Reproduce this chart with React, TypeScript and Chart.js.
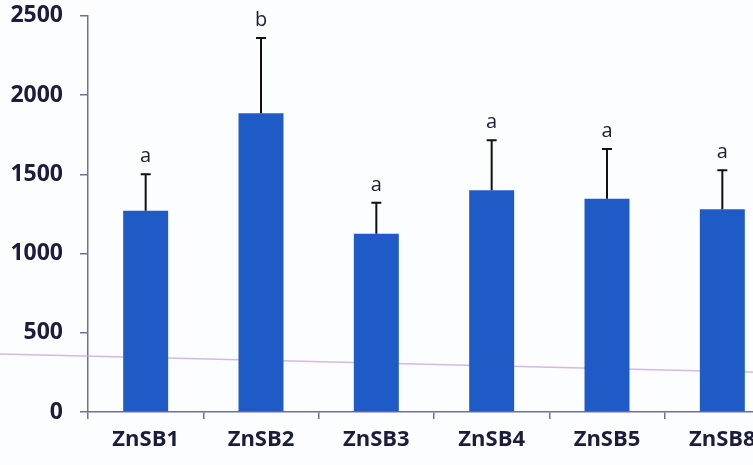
import React, { useEffect, useRef } from "react";
import { Chart, registerables } from "chart.js";

Chart.register(...registerables);

const strains = ["ZnSB1", "ZnSB2", "ZnSB3", "ZnSB4", "ZnSB5", "ZnSB8"];
const means = [1270, 1885, 1125, 1400, 1345, 1280];
const errors = [230, 475, 195, 315, 315, 245];
const groups = ["a", "b", "a", "a", "a", "a"];
const yTicks = [0, 500, 1000, 1500, 2000, 2500];

const BAR = "#1f5bc6";
const AXIS = "#6e6ea0";
const INK = "#1c1d3c";
const SHIFT = 15; // canvas is raised by this many pixels inside its frame

// Whiskers above each bar plus the significance letter over the cap
const errorBars = {
  id: "errorBars",
  afterDatasetsDraw(chart: any) {
    const { ctx, scales } = chart;
    const x = scales.x;
    const y = scales.y;
    ctx.save();
    ctx.strokeStyle = "#111111";
    ctx.lineWidth = 2;
    means.forEach((m, i) => {
      const cx = x.getPixelForValue(i);
      const yTop = y.getPixelForValue(m);
      const yCap = y.getPixelForValue(m + errors[i]);
      ctx.beginPath();
      ctx.moveTo(cx, yTop);
      ctx.lineTo(cx, yCap);
      ctx.moveTo(cx - 5, yCap);
      ctx.lineTo(cx + 5, yCap);
      ctx.stroke();
      ctx.fillStyle = INK;
      ctx.font = "20px 'Open Sans'";
      ctx.textAlign = "center";
      ctx.textBaseline = "alphabetic";
      ctx.fillText(groups[i], cx, yCap - 12);
    });
    ctx.restore();
  },
};

// Faint lavender pen stroke running across the page behind the bars
const penStroke = {
  id: "penStroke",
  beforeDatasetsDraw(chart: any) {
    const { ctx, width } = chart;
    ctx.save();
    ctx.strokeStyle = "rgba(200,160,220,0.75)";
    ctx.lineWidth = 1.5;
    ctx.beginPath();
    ctx.moveTo(0, 354 + SHIFT);
    ctx.lineTo(width, 373 + SHIFT);
    ctx.stroke();
    ctx.restore();
  },
};

export default function App() {
  const ref = useRef<HTMLCanvasElement>(null);

  useEffect(() => {
    if (!ref.current) return;
    const chart = new Chart(ref.current, {
      type: "bar",
      data: {
        labels: strains,
        datasets: [
          {
            data: means,
            backgroundColor: BAR,
            borderWidth: 0,
            barPercentage: 0.39,
            categoryPercentage: 1,
          },
        ],
      },
      options: {
        animation: false,
        responsive: false,
        layout: { padding: { top: 0, right: 10, left: 0, bottom: 0 } },
        plugins: { legend: { display: false }, tooltip: { enabled: false } },
        scales: {
          x: {
            grid: {
              offset: true,
              drawOnChartArea: false,
              drawTicks: true,
              tickLength: 7,
              color: AXIS,
              lineWidth: 1.5,
            },
            border: { color: AXIS, width: 1.5 },
            ticks: {
              color: INK,
              font: { family: "'Open Sans'", size: 22, weight: "bold" },
              padding: 8,
              maxRotation: 0,
            },
            afterFit(scale: any) {
              scale.height = 53;
            },
          },
          y: {
            min: 0,
            max: 2500,
            afterBuildTicks(scale: any) {
              scale.ticks = yTicks.map((v) => ({ value: v }));
            },
            grid: {
              drawOnChartArea: false,
              drawTicks: true,
              tickLength: 8,
              color: AXIS,
              lineWidth: 1.5,
            },
            border: { color: AXIS, width: 1.5 },
            ticks: {
              color: INK,
              font: { family: "'Open Sans'", size: 23, weight: "bold" },
              padding: 17,
              callback: (v: any) => String(v),
            },
            afterFit(scale: any) {
              scale.width = 88;
            },
          },
        },
      },
      plugins: [penStroke, errorBars],
    });
    return () => chart.destroy();
  }, []);

  return (
    <div
      style={{
        position: "fixed",
        left: 0,
        top: 0,
        width: 753,
        height: 465,
        overflow: "hidden",
        background: "#fcfdfe",
      }}
    >
      <canvas
        ref={ref}
        width={790}
        height={465 + SHIFT}
        style={{ display: "block", marginTop: -SHIFT }}
      />
    </div>
  );
}
